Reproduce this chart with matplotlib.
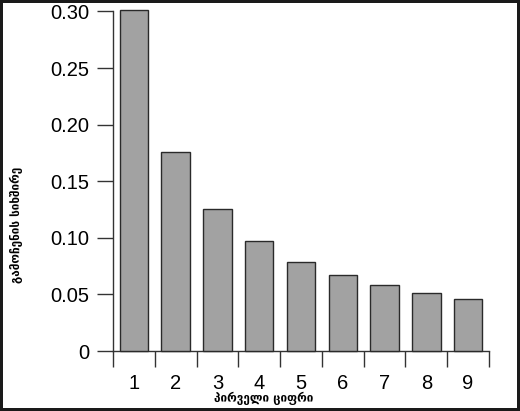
import matplotlib
matplotlib.use("Agg")
import matplotlib.pyplot as plt
from matplotlib.ticker import FixedLocator, FixedFormatter

digits = [1, 2, 3, 4, 5, 6, 7, 8, 9]
freqs = [0.301, 0.176, 0.125, 0.097, 0.079, 0.067, 0.058, 0.051, 0.046]
ytick_vals = [0, 0.05, 0.10, 0.15, 0.20, 0.25, 0.30]
ytick_labels = ["0", "0.05", "0.10", "0.15", "0.20", "0.25", "0.30"]
xlabel = "პირველი ციფრი"
ylabel = "გამოჩენის სიხშირე"

DPI = 100
W, H = 520, 411
fig = plt.figure(figsize=(W / DPI, H / DPI), dpi=DPI)
fig.patch.set_facecolor("white")
fig.patch.set_edgecolor("#1a1a1a")
fig.patch.set_linewidth(3)

ax = fig.add_axes([113 / W, 60 / H, (489 - 113) / W, (351 - 11.4) / H])
ax.bar(digits, freqs, width=0.68, color="#a2a2a2", edgecolor="#2a2a2a",
       linewidth=1.0, clip_on=False, zorder=3)
ax.set_xlim(0.5, 9.5)
ax.set_ylim(0, 0.30)

for s in ["top", "right"]:
    ax.spines[s].set_visible(False)
for s in ["left", "bottom"]:
    ax.spines[s].set_color("#333333")
    ax.spines[s].set_linewidth(1.0)

tick_len = 16 * 72 / DPI
ax.xaxis.set_major_locator(FixedLocator([d - 0.5 for d in digits] + [digits[-1] + 0.5]))
ax.xaxis.set_major_formatter(FixedFormatter([""] * 10))
ax.xaxis.set_minor_locator(FixedLocator(digits))
ax.xaxis.set_minor_formatter(FixedFormatter([str(d) for d in digits]))
ax.tick_params(axis="x", which="major", length=tick_len, width=1.0, color="#333333", direction="out")
ax.tick_params(axis="x", which="minor", length=0, pad=tick_len + 5, labelsize=14.5)

ax.yaxis.set_major_locator(FixedLocator(ytick_vals))
ax.yaxis.set_major_formatter(FixedFormatter(ytick_labels))
ax.tick_params(axis="y", which="major", length=tick_len, width=1.0, color="#333333",
               direction="out", pad=5.5, labelsize=14.5)

for lab in ax.get_xticklabels(minor=True) + ax.get_yticklabels():
    lab.set_fontfamily("Liberation Sans")
    lab.set_color("black")

fig.text(264 / W, 1 - 398 / H, xlabel, ha="center", va="center",
         fontsize=8.5, fontweight="bold", family=["DejaVu Sans"])
fig.text(16 / W, 1 - 225 / H, ylabel, ha="center", va="center", rotation=90,
         fontsize=8.5, fontweight="bold", family=["DejaVu Sans"])

fig.savefig("out.png", dpi=DPI, facecolor=fig.get_facecolor(), edgecolor=fig.get_edgecolor())
